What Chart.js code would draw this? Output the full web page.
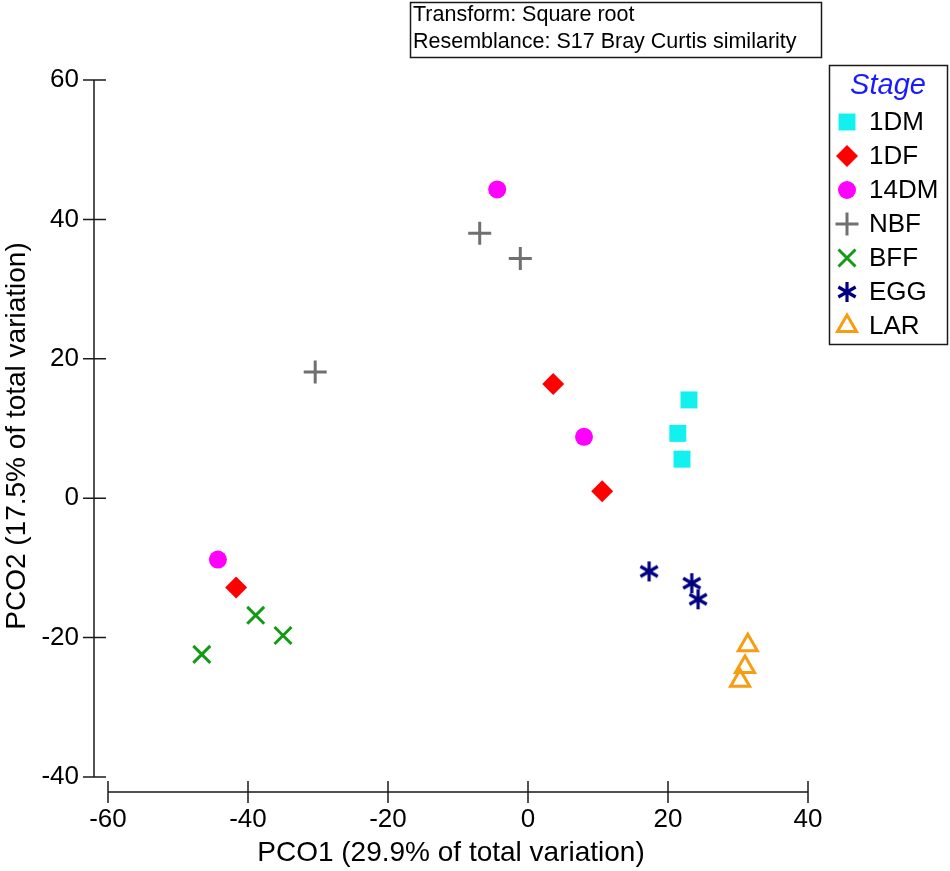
<!DOCTYPE html>
<html>
<head>
<meta charset="utf-8">
<script src="https://cdn.jsdelivr.net/npm/chart.js@4.4.1/dist/chart.umd.min.js"></script>
<style>
  html, body { margin: 0; padding: 0; background: #fff; }
  #wrap { width: 950px; height: 871px; position: relative; }
</style>
</head>
<body>
<div id="wrap"><canvas id="pcoChart"></canvas></div>
<script>
// PCO scores, [PCO1, PCO2] per sample
const stages = ["1DM", "1DF", "14DM", "NBF", "BFF", "EGG", "LAR"];
const pts1DM = [[23.0, 14.1], [21.4, 9.3], [22.0, 5.6]];
const pts1DF = [[3.6, 16.4], [10.6, 1.0], [-41.7, -12.8]];
const pts14DM = [[-4.4, 44.3], [8.0, 8.8], [-44.3, -8.8]];
const ptsNBF = [[-6.9, 38.0], [-1.1, 34.4], [-30.4, 18.1]];
const ptsBFF = [[-38.9, -16.8], [-35.0, -19.7], [-46.6, -22.4]];
const ptsEGG = [[17.3, -10.5], [23.4, -12.2], [24.3, -14.5]];
const ptsLAR = [[31.4, -21.1], [31.0, -24.2], [30.3, -26.2]];

const xTicks = [-60, -40, -20, 0, 20, 40];
const yTicks = [-40, -20, 0, 20, 40, 60];
const xTitle = "PCO1 (29.9% of total variation)";
const yTitle = "PCO2 (17.5% of total variation)";
const noteLines = ["Transform: Square root", "Resemblance: S17 Bray Curtis similarity"];
const legendTitle = "Stage";

const FONT = "'Liberation Sans', Arial, sans-serif";
Chart.defaults.font.family = FONT;
Chart.defaults.color = "#000";

function makeAsterisk(color) {
    const size = 22;
    const c = document.createElement("canvas");
    c.width = size;
    c.height = size;
    const g = c.getContext("2d");
    g.strokeStyle = color;
    g.lineWidth = 3.2;
    const r = size / 2 - 1;
    for (let i = 0; i < 3; i++) {
        const a = Math.PI / 2 + i * Math.PI / 3;
        g.beginPath();
        g.moveTo(size / 2 + r * Math.cos(a), size / 2 + r * Math.sin(a));
        g.lineTo(size / 2 - r * Math.cos(a), size / 2 - r * Math.sin(a));
        g.stroke();
    }
    return c;
}

function series(label, pts, style) {
    return Object.assign({
        label: label,
        data: pts.map(p => ({ x: p[0], y: p[1] })),
        showLine: false
    }, style);
}

const datasets = [
    series(stages[0], pts1DM, { pointStyle: "rect", pointRadius: 12, backgroundColor: "#12F0F0", borderColor: "#12F0F0", borderWidth: 0 }),
    series(stages[1], pts1DF, { pointStyle: "rectRot", pointRadius: 11, backgroundColor: "#FF0000", borderColor: "#FF0000", borderWidth: 0 }),
    series(stages[2], pts14DM, { pointStyle: "circle", pointRadius: 9, backgroundColor: "#FF00FF", borderColor: "#FF00FF", borderWidth: 0 }),
    series(stages[3], ptsNBF, { pointStyle: "cross", pointRadius: 11.5, backgroundColor: "#707070", borderColor: "#707070", borderWidth: 3 }),
    series(stages[4], ptsBFF, { pointStyle: "crossRot", pointRadius: 12, backgroundColor: "#159A15", borderColor: "#159A15", borderWidth: 3 }),
    series(stages[5], ptsEGG, { pointStyle: makeAsterisk("#000080"), pointRadius: 11, backgroundColor: "#000080", borderColor: "#000080", borderWidth: 0 }),
    series(stages[6], ptsLAR, { pointStyle: "triangle", pointRadius: 11, backgroundColor: "rgba(0,0,0,0)", borderColor: "#F89C10", borderWidth: 3 })
];

// axis lines with crossing tick marks, detached from each other
const axisLines = {
    id: "axisLines",
    beforeDatasetsDraw(chart) {
        const { ctx, scales } = chart;
        const ax = chart.chartArea.left;
        const ay = chart.chartArea.bottom;
        ctx.save();
        ctx.strokeStyle = "#1a1a1a";
        ctx.lineWidth = 1.5;
        ctx.beginPath();
        ctx.moveTo(ax, scales.y.getPixelForValue(yTicks[yTicks.length - 1]));
        ctx.lineTo(ax, scales.y.getPixelForValue(yTicks[0]));
        yTicks.forEach(v => {
            const py = scales.y.getPixelForValue(v);
            ctx.moveTo(ax - 11, py);
            ctx.lineTo(ax + 12, py);
        });
        ctx.moveTo(scales.x.getPixelForValue(xTicks[0]), ay);
        ctx.lineTo(scales.x.getPixelForValue(xTicks[xTicks.length - 1]), ay);
        xTicks.forEach(v => {
            const px = scales.x.getPixelForValue(v);
            ctx.moveTo(px, ay - 11);
            ctx.lineTo(px, ay + 11);
        });
        ctx.stroke();
        ctx.restore();
    }
};

// note box at the top and the boxed legend on the right
const boxes = {
    id: "boxes",
    afterDraw(chart) {
        const ctx = chart.ctx;
        ctx.save();
        ctx.strokeStyle = "#1a1a1a";
        ctx.lineWidth = 1.5;
        ctx.strokeRect(410.5, 2.5, 411, 55);
        ctx.fillStyle = "#000";
        ctx.font = "21.5px " + FONT;
        ctx.textBaseline = "middle";
        ctx.textAlign = "left";
        ctx.fillText(noteLines[0], 413, 15);
        ctx.fillText(noteLines[1], 413, 42);

        ctx.strokeRect(829.5, 65.5, 118, 279);
        ctx.fillStyle = "#1a1aff";
        ctx.font = "italic 29px " + FONT;
        ctx.textAlign = "center";
        ctx.fillText(legendTitle, 888, 86);

        chart.data.datasets.forEach((ds, i) => {
            const cy = 122 + i * 34;
            ctx.fillStyle = ds.backgroundColor;
            ctx.strokeStyle = ds.borderColor;
            ctx.lineWidth = ds.borderWidth;
            Chart.helpers.drawPoint(ctx, {
                pointStyle: ds.pointStyle,
                radius: ds.pointRadius,
                rotation: 0,
                borderWidth: ds.borderWidth
            }, 847, cy);
            ctx.fillStyle = "#000";
            ctx.font = "26px " + FONT;
            ctx.textAlign = "left";
            ctx.fillText(ds.label, 869, cy + 1);
        });
        ctx.restore();
    }
};

new Chart(document.getElementById("pcoChart"), {
    type: "scatter",
    data: { datasets },
    options: {
        responsive: true,
        maintainAspectRatio: false,
        animation: false,
        events: [],
        layout: { padding: { top: 80, right: 142, bottom: 0, left: 0 } },
        plugins: {
            legend: { display: false },
            tooltip: { enabled: false }
        },
        scales: {
            x: {
                type: "linear",
                min: -62,
                max: 40,
                afterBuildTicks: s => { s.ticks = xTicks.map(v => ({ value: v })); },
                afterFit: s => { s.height = 79; },
                grid: { display: false, drawTicks: false },
                border: { display: false },
                ticks: { padding: 12, color: "#000", font: { size: 26 }, maxRotation: 0 },
                title: { display: true, text: xTitle, color: "#000", font: { size: 28 }, padding: { top: 0, bottom: 1 } }
            },
            y: {
                type: "linear",
                min: -42.15,
                max: 60,
                afterBuildTicks: s => { s.ticks = yTicks.map(v => ({ value: v })); },
                afterFit: s => { s.width = 94; },
                grid: { display: false, drawTicks: false },
                border: { display: false },
                ticks: { padding: 15, color: "#000", font: { size: 26 } },
                title: { display: true, text: yTitle, color: "#000", font: { size: 28 }, padding: { top: 0, bottom: 0 } }
            }
        }
    },
    plugins: [axisLines, boxes]
});
</script>
</body>
</html>
